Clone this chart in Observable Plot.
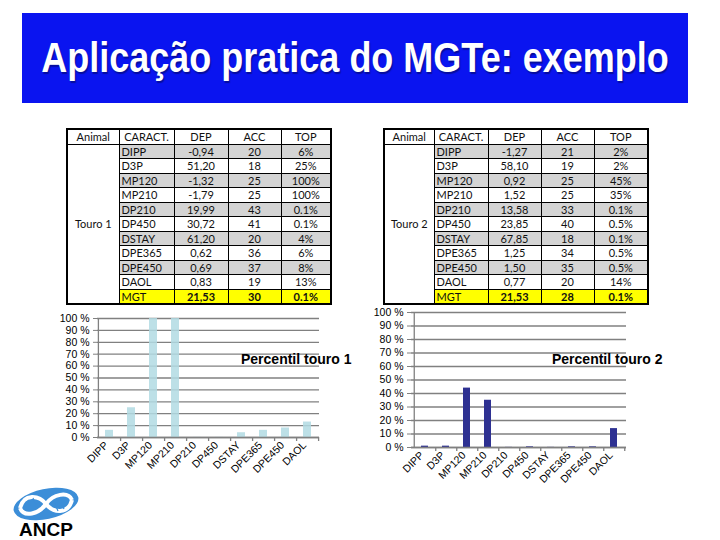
<!DOCTYPE html>
<html>
<head>
<meta charset="utf-8">
<script src="https://cdn.jsdelivr.net/npm/d3@7"></script>
<script src="https://cdn.jsdelivr.net/npm/@observablehq/plot@0.6"></script>
<style>
  html, body { margin: 0; padding: 0; background: #fff; }
  #page { position: relative; width: 720px; height: 540px; overflow: hidden; background: #fff; font-family: "Liberation Sans", Arial, sans-serif; }
  #band { position: absolute; left: 22px; top: 13px; width: 666px; height: 90px; background: #0a14f0; }
  #title { position: absolute; left: 0px; top: 13px; width: 710px; height: 90px; line-height: 90px; text-align: center; color: #fff; font-weight: bold; font-size: 36px; transform: scaleY(1.2); transform-origin: 50% 50%; text-shadow: 1px 1px 1px rgba(0,0,0,0.35); white-space: nowrap; }
  table.t { position: absolute; border-collapse: collapse; table-layout: fixed; font-family: Lato, "Open Sans", sans-serif; font-size: 11px; border: 2px solid #000; color: #111; }
  table.t td { border: 1px solid #000; padding: 0 2px; height: 13.5px; line-height: 13px; text-align: center; white-space: nowrap; overflow: hidden; }
  table.t td.c { text-align: left; }
  table.t tr.g td.s { background: #d4d4d4; }
  table.t tr.y td.s { background: #ffff00; font-weight: bold; }
  table.t tr.y td.c { font-weight: normal; }
  .chart { position: absolute; }
  .lab { position: absolute; font-weight: bold; font-size: 14px; color: #000; white-space: nowrap; }
</style>
</head>
<body>
<div id="page">
  <div id="band"></div>
  <div id="title">Aplicação pratica do MGTe: exemplo</div>
  <table class="t" id="t1" style="left:66px; top:128px; width:264px;"></table>
  <table class="t" id="t2" style="left:383px; top:128px; width:264px;"></table>
  <div class="chart" id="c1" style="left:50px; top:305px;"></div>
  <div class="chart" id="c2" style="left:370px; top:300px;"></div>
  <div class="lab" style="left:241px; top:351px;">Percentil touro 1</div>
  <div class="lab" style="left:552px; top:351px;">Percentil touro 2</div>
  <svg id="logo" style="position:absolute; left:6px; top:485px;" width="80" height="55" viewBox="0 0 80 55">
    <ellipse cx="40" cy="19" rx="33" ry="15" fill="#3c8ed8" transform="rotate(-12 40 19)"/>
    <path d="M14 23 C18 8, 33 10, 40 19 C47 28, 62 30, 66 15" fill="none" stroke="#fff" stroke-width="4"/>
    <path d="M14 23 C18 33, 33 29, 40 19 C47 9, 62 6, 66 15" fill="none" stroke="#fff" stroke-width="4"/>
    <path d="M22 15 l3 6 M27 13 l3 7 M49 19 l3 7 M55 18 l3 6" stroke="#3c8ed8" stroke-width="1.2"/>
    <text x="40" y="51" text-anchor="middle" font-family="Liberation Sans, Arial, sans-serif" font-weight="bold" font-size="19" fill="#000">ANCP</text>
  </svg>
</div>
<script>
// ---- data ----
const headers = ["Animal", "CARACT.", "DEP", "ACC", "TOP"];
const caract = ["DIPP", "D3P", "MP120", "MP210", "DP210", "DP450", "DSTAY", "DPE365", "DPE450", "DAOL", "MGT"];
const dep1 = ["-0,94", "51,20", "-1,32", "-1,79", "19,99", "30,72", "61,20", "0,62", "0,69", "0,83", "21,53"];
const acc1 = ["20", "18", "25", "25", "43", "41", "20", "36", "37", "19", "30"];
const top1 = ["6%", "25%", "100%", "100%", "0.1%", "0.1%", "4%", "6%", "8%", "13%", "0.1%"];
const dep2 = ["-1,27", "58,10", "0,92", "1,52", "13,58", "23,85", "67,85", "1,25", "1,50", "0,77", "21,53"];
const acc2 = ["21", "19", "25", "25", "33", "40", "18", "34", "35", "20", "28"];
const top2 = ["2%", "2%", "45%", "35%", "0.1%", "0.5%", "0.1%", "0.5%", "0.5%", "14%", "0.1%"];

const cats = ["DIPP", "D3P", "MP120", "MP210", "DP210", "DP450", "DSTAY", "DPE365", "DPE450", "DAOL"];
const percentil1 = [0.06, 0.25, 1.00, 1.00, 0.001, 0.001, 0.04, 0.06, 0.08, 0.13];
const percentil2 = [0.01, 0.01, 0.44, 0.35, 0.001, 0.005, 0.001, 0.005, 0.005, 0.14];
const yTicks = [0, 0.1, 0.2, 0.3, 0.4, 0.5, 0.6, 0.7, 0.8, 0.9, 1.0];

// ---- tables ----
function buildTable(id, animal, dep, acc, top, widths) {
  const t = document.getElementById(id);
  const cg = document.createElement("colgroup");
  widths.forEach(w => { const c = document.createElement("col"); c.style.width = w + "px"; cg.appendChild(c); });
  t.appendChild(cg);
  const h = document.createElement("tr");
  headers.forEach(x => { const td = document.createElement("td"); td.textContent = x; h.appendChild(td); });
  t.appendChild(h);
  caract.forEach((c, i) => {
    const tr = document.createElement("tr");
    if (i === caract.length - 1) tr.className = "y"; else if (i % 2 === 0) tr.className = "g";
    if (i === 0) {
      const a = document.createElement("td");
      a.rowSpan = caract.length; a.textContent = animal; a.style.verticalAlign = "middle";
      tr.appendChild(a);
    }
    [[c, "c s"], [dep[i], "s"], [acc[i], "s"], [top[i], "s"]].forEach(([v, cls]) => {
      const td = document.createElement("td"); td.textContent = v; td.className = cls; tr.appendChild(td);
    });
    t.appendChild(tr);
  });
}
buildTable("t1", "Touro 1", dep1, acc1, top1, [52, 55, 54, 53, 50]);
buildTable("t2", "Touro 2", dep2, acc2, top2, [50, 54, 53, 53, 54]);

// ---- charts ----
function chart(values, color, o) {
  const data = cats.map((c, i) => ({c, v: values[i]}));
  const step = (o.width - o.ml - o.mr) / cats.length;
  const grey = "#808080";
  return Plot.plot({
    width: o.width, height: o.height,
    marginLeft: o.ml, marginRight: o.mr, marginTop: o.mt, marginBottom: o.mb,
    style: {fontFamily: "Liberation Sans, Arial, sans-serif", color: "#000", background: "transparent", overflow: "visible"},
    x: {domain: cats, paddingInner: o.pad, paddingOuter: o.pad / 2, axis: null},
    y: {domain: [0, 1], axis: null},
    marks: [
      Plot.gridY(yTicks, {stroke: grey, strokeOpacity: 1, strokeWidth: 1.3}),
      Plot.barY(data, {x: "c", y: "v", fill: color, fillOpacity: o.op}),
      Plot.ruleY([0], {stroke: grey, strokeWidth: 1.3}),
      Plot.ruleX([cats[0]], {dx: -step / 2, stroke: grey, strokeWidth: 1.3}),
      Plot.ruleX(cats, {y1: 0, y2: 0, insetBottom: -4, dx: step / 2, stroke: grey, strokeWidth: 1.3}),
      Plot.axisY({ticks: yTicks, tickSize: 4, tickPadding: 4, stroke: grey, fontSize: 10.5, label: null,
                  tickFormat: d => Math.round(d * 100) + " %"}),
      Plot.axisX({tickSize: 0, tickRotate: -45, tickPadding: 6, fontSize: 10.5, label: null, dx: -3})
    ]
  });
}
document.getElementById("c1").appendChild(
  chart(percentil1, "#b2dbe3", {width: 310, height: 180, ml: 47, mr: 41, mt: 13, mb: 48, pad: 0.64, op: 0.85}));
document.getElementById("c2").appendChild(
  chart(percentil2, "#2e3192", {width: 350, height: 200, ml: 41, mr: 94, mt: 12, mb: 53, pad: 0.67, op: 1}));
</script>
</body>
</html>
